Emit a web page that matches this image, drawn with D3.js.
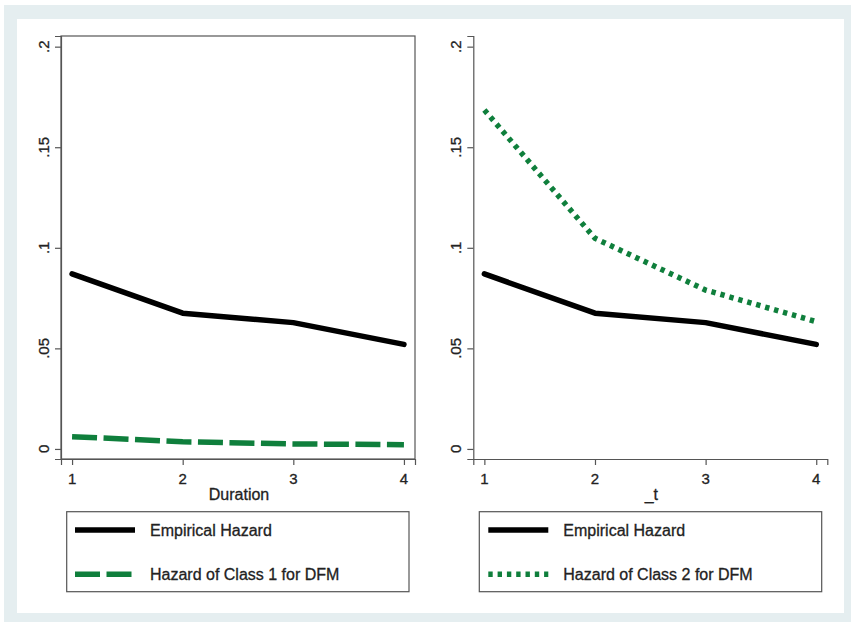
<!DOCTYPE html>
<html lang="en">
<head>
<meta charset="UTF-8">
<title>Hazard</title>
<script src="https://cdn.jsdelivr.net/npm/d3@7"></script>
<style>
  body { margin: 0; background: #fff; }
  text { font-family: "Liberation Sans", Arial, sans-serif; fill: #222; stroke: #222; stroke-width: 0.3px; }
</style>
</head>
<body>
<svg class="chart"></svg>
<script>
  // data
  const durations = [1, 2, 3, 4];
  const empiricalHazard = [0.087, 0.0675, 0.0628, 0.052];
  const class1Hazard = [0.0061, 0.0036, 0.0025, 0.0021];
  const class2Hazard = [0.1685, 0.1047, 0.079, 0.0633];
  const yTicks = [0, 0.05, 0.1, 0.15, 0.2];
  const yTickLabels = ["0", ".05", ".1", ".15", ".2"];

  const width = 852, height = 625;
  const green = "#0f7f3c";

  const svg = d3.select(".chart").attr("width", width).attr("height", height);

  // frame
  svg.append("rect").attr("x", 4).attr("y", 5).attr("width", 847).attr("height", 617).attr("fill", "#e5eef0");
  svg.append("rect").attr("x", 17).attr("y", 19).attr("width", 827).attr("height", 594).attr("fill", "#fff");

  const plotTop = 36, plotBottom = 459, plotWidth = 354;
  const y = d3.scaleLinear().domain([-0.005, 0.2053]).range([plotBottom, plotTop]);

  const panels = [
    { left: 61, box: true, xTitle: "Duration", label: "Hazard of Class 1 for DFM", values: class1Hazard,
      dash: "25,6.5", legendX: 66.7, legendW: 342.3, sampleX: 75, textX: 150 },
    { left: 473.3, box: false, xTitle: "_t", label: "Hazard of Class 2 for DFM", values: class2Hazard,
      dash: "4.4,4.9", legendX: 479.3, legendW: 342.4, sampleX: 488.3, textX: 563.3 }
  ];

  panels.forEach(p => {
    const g = svg.append("g");
    const x = d3.scaleLinear().domain([0.9, 4.1]).range([p.left, p.left + plotWidth]);

    if (p.box) {
      g.append("rect").attr("x", p.left).attr("y", plotTop)
        .attr("width", plotWidth).attr("height", plotBottom - plotTop)
        .attr("fill", "none").attr("stroke", "#555").attr("stroke-width", 1.2);
    }

    // y axis (labels drawn separately)
    const yAxis = g.append("g").attr("transform", `translate(${p.left},0)`)
      .call(d3.axisLeft(y).tickValues(yTicks).tickSize(6).tickFormat(""));
    yAxis.select(".domain").attr("stroke", "#555").attr("stroke-width", 1.2);
    yAxis.selectAll(".tick line").attr("stroke", "#555").attr("stroke-width", 1.2);
    g.selectAll(".ylab").data(yTicks).join("text").attr("class", "ylab")
      .attr("transform", d => `translate(${p.left - 12},${y(d)}) rotate(-90)`)
      .attr("text-anchor", "middle").attr("font-size", 15)
      .text((d, i) => yTickLabels[i]);

    // x axis
    const xAxis = g.append("g").attr("transform", `translate(0,${plotBottom})`)
      .call(d3.axisBottom(x).tickValues(durations).tickSize(6).tickFormat(""));
    xAxis.select(".domain").attr("stroke", "#555").attr("stroke-width", 1.2);
    xAxis.selectAll(".tick line").attr("stroke", "#555").attr("stroke-width", 1.2);
    g.selectAll(".xlab").data(durations).join("text").attr("class", "xlab")
      .attr("x", d => x(d)).attr("y", plotBottom + 24.5)
      .attr("text-anchor", "middle").attr("font-size", 15)
      .text(d => d);

    g.append("text").attr("x", p.left + plotWidth / 2 + 1).attr("y", 500)
      .attr("text-anchor", "middle").attr("font-size", 16).text(p.xTitle);

    const line = d3.line().x((d, i) => x(durations[i])).y(d => y(d));

    g.append("path").datum(p.values).attr("d", line)
      .attr("fill", "none").attr("stroke", green).attr("stroke-width", 5.5)
      .attr("stroke-dasharray", p.dash);

    g.append("path").datum(empiricalHazard).attr("d", line)
      .attr("fill", "none").attr("stroke", "#000").attr("stroke-width", 5.5)
      .attr("stroke-linejoin", "round").attr("stroke-linecap", "round");

    // legend
    const lg = g.append("g");
    lg.append("rect").attr("x", p.legendX).attr("y", 511.7).attr("width", p.legendW).attr("height", 80)
      .attr("fill", "#fff").attr("stroke", "#555").attr("stroke-width", 1.2);
    const entries = [
      { label: "Empirical Hazard", color: "#000", dash: null, y: 530 },
      { label: p.label, color: green, dash: p.dash, y: 574.3 }
    ];
    entries.forEach(e => {
      lg.append("line").attr("x1", p.sampleX).attr("x2", p.sampleX + 60)
        .attr("y1", e.y).attr("y2", e.y)
        .attr("stroke", e.color).attr("stroke-width", 5.5)
        .attr("stroke-dasharray", e.dash);
      lg.append("text").attr("x", p.textX).attr("y", e.y).attr("dy", "0.36em")
        .attr("font-size", 16).text(e.label);
    });
  });
</script>
</body>
</html>
